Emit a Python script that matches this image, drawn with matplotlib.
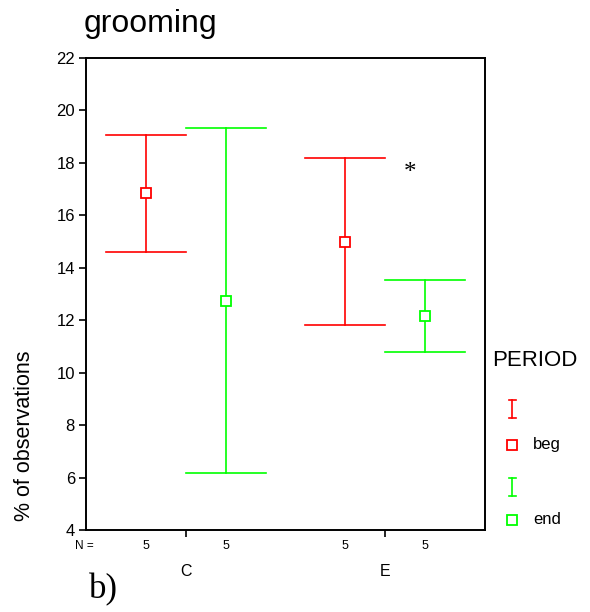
import matplotlib
matplotlib.use("Agg")
import matplotlib.pyplot as plt
from matplotlib.transforms import blended_transform_factory

plt.rcParams['font.family'] = ['Liberation Sans', 'DejaVu Sans']

groups = ["C", "E"]
periods = ["beg", "end"]
colors = {"beg": "#ff0000", "end": "#00ff00"}
means = {"beg": [16.86, 15.0], "end": [12.74, 12.17]}
upper = {"beg": [19.07, 18.2], "end": [19.34, 13.54]}
lower = {"beg": [14.6, 11.82], "end": [6.17, 10.79]}
n_vals = {"beg": [5, 5], "end": [5, 5]}

W, H = 590, 612
fig = plt.figure(figsize=(5.9, 6.12), dpi=100)
ax = fig.add_axes([86 / W, (H - 530) / H, 399 / W, 472 / H])

group_pos = [1, 3]
offsets = {"beg": -0.4, "end": 0.4}
cap = 0.4
for p in periods:
    for i, g in enumerate(groups):
        x = group_pos[i] + offsets[p]
        c = colors[p]
        ax.plot([x, x], [lower[p][i], upper[p][i]], color=c, lw=1.2)
        ax.plot([x - cap, x + cap], [upper[p][i]] * 2, color=c, lw=1.2)
        ax.plot([x - cap, x + cap], [lower[p][i]] * 2, color=c, lw=1.2)
        ax.plot([x], [means[p][i]], marker='s', ms=7, mfc='white', mec=c, mew=1.3, ls='none', zorder=3)

ax.set_xlim(0, 4)
ax.set_ylim(4, 22)
ax.set_yticks(range(4, 23, 2))
ax.set_xticks(group_pos)
ax.set_xticklabels([])
ax.tick_params(axis='y', direction='out', length=5, width=1.2, labelsize=12, pad=3)
ax.tick_params(axis='x', direction='out', length=5, width=1.2)
for s in ax.spines.values():
    s.set_linewidth(1.4)

fig.text(25 / W, 1 - 436 / H, "% of observations", fontsize=15.5, rotation=90,
         ha='center', va='center')

tr = blended_transform_factory(ax.transData, fig.transFigure)
fig.text(84 / W, 1 - 546 / H, "N =", fontsize=8.5, ha='center', va='center')
for p in periods:
    for i, g in enumerate(groups):
        ax.text(group_pos[i] + offsets[p], 1 - 546 / H, str(n_vals[p][i]), transform=tr,
                fontsize=9, ha='center', va='center')
for i, g in enumerate(groups):
    ax.text(group_pos[i], 1 - 572 / H, g, transform=tr, fontsize=11.5, ha='center', va='center')

ax.text(3.25, 17.6, "*", fontsize=18, family='Liberation Serif', ha='center', va='center')

fig.text(84 / W, 1 - 24 / H, "grooming", fontsize=23, ha='left', va='center')
fig.text(89 / W, 1 - 590 / H, "b)", fontsize=25, family='Liberation Serif', ha='left', va='center')

# legend
fig.text(492 / W, 1 - 360 / H, "PERIOD", fontsize=16, ha='left', va='center')
lax = fig.add_axes([0, 0, 1, 1])
lax.set_xlim(0, W)
lax.set_ylim(H, 0)
lax.axis('off')
for p, ytop, ysq in [("beg", 400, 445), ("end", 478, 520)]:
    c = colors[p]
    x0 = 512
    lax.plot([x0, x0], [ytop, ytop + 18], color=c, lw=1.2)
    lax.plot([x0 - 3.5, x0 + 3.5], [ytop] * 2, color=c, lw=1.2)
    lax.plot([x0 - 3.5, x0 + 3.5], [ytop + 18] * 2, color=c, lw=1.2)
    lax.plot([x0], [ysq], marker='s', ms=6.5, mfc='white', mec=c, mew=1.3)
    lax.text(x0 + 21, ysq, p, fontsize=12, ha='left', va='center')

fig.savefig("out.png", dpi=100)
